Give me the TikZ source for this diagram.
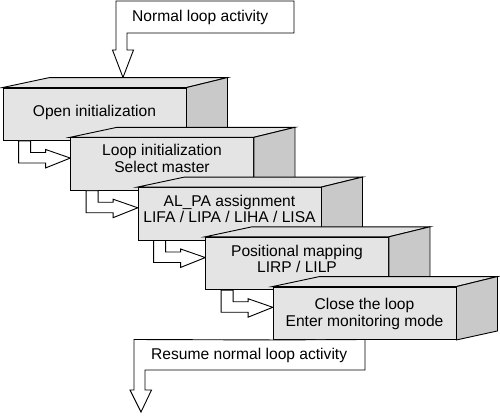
\documentclass[tikz,border=0pt]{standalone}
\usepackage{fontspec}
\setmainfont{Liberation Sans}
\usetikzlibrary{calc}
\definecolor{frontgray}{HTML}{E4E4E4}
\definecolor{topgray}{HTML}{E2E2E2}
\definecolor{sidegray}{HTML}{C9C9C9}
\tikzset{
  stepbox/.style={draw, fill=frontgray, line width=0.9pt, minimum width=183pt, minimum height=52.5pt, inner sep=0pt},
  steptext/.style={inner sep=0pt, align=center, font=\fontsize{15.6pt}{16.5pt}\selectfont},
  ghost/.style={minimum width=183pt, minimum height=52.5pt, inner sep=0pt},
  facetop/.style={draw, fill=topgray, line width=0.9pt, line join=miter},
  faceside/.style={draw, fill=sidegray, line width=0.9pt, line join=miter},
  hollow/.style={draw, fill=white, line width=0.9pt, line join=miter},
  lbl/.style={font=\fontsize{15.6pt}{17.5pt}\selectfont, inner sep=0pt, anchor=west}
}
\newcommand{\boxfaces}[1]{%
  \draw[facetop] (#1.north west) -- ++(47,-10) -- ($(#1.north east)+(41,-10)$) -- (#1.north east) -- cycle;
  \draw[faceside] (#1.north east) -- ++(41,-10) -- ($(#1.south east)+(41,-9)$) -- (#1.south east) -- cycle;
}
\newcommand{\steparrow}[2]{%
  \draw[hollow] ($(#1.south west)+(16,0)$) -- ++(0,22) -- ++(27,0) -- ++(0,5)
    -- ($(#2.north west)+(0,20.5)$)
    -- ($(#1.south west)+(43,8.5)$) -- ++(0,3) -- ++(-15,0) -- ++(0,-11.5) -- cycle;
}
\begin{document}
\begin{tikzpicture}[x=1pt,y=-1pt]
\useasboundingbox (0,0) rectangle (500,416);
% positions of the steps (placeholders for arrow targets)
\path node[ghost] (g2) at (162,164) {}
      node[ghost] (g3) at (229.5,213.75) {}
      node[ghost] (g4) at (297,263.5) {}
      node[ghost] (g5) at (364.5,313.25) {};
% top arrow
\coordinate (topend) at (123,77.5);
\draw[hollow] (116,1) -- (294,1) -- (294,33) -- (127,33) -- (127,50) -- (133.5,50) -- (topend) -- (112.5,50) -- (116,50) -- cycle;
\node[lbl] (tlab) at (132,17) {Normal loop activity};
% boxes
\node[stepbox] (b1) at (94.5,114.25) {};
\node[steptext] (t1) at ($(b1.center)+(0,-2)$) {Open initialization};
\boxfaces{b1}
\steparrow{b1}{g2}
\node[stepbox] (b2) at (g2) {};
\node[steptext] (t2) at ($(b2.center)+(0,-5.5)$) {Loop initialization\\Select master};
\boxfaces{b2}
\steparrow{b2}{g3}
\node[stepbox] (b3) at (g3) {};
\node[steptext] (t3) at ($(b3.center)+(0,-5)$) {AL\_PA assignment\\LIFA / LIPA / LIHA / LISA};
\boxfaces{b3}
\steparrow{b3}{g4}
\node[stepbox] (b4) at (g4) {};
\node[steptext] (t4) at ($(b4.center)+(0,-4.5)$) {Positional mapping\\LIRP / LILP};
\boxfaces{b4}
\steparrow{b4}{g5}
\node[stepbox] (b5) at (g5) {};
\node[steptext] (t5) at ($(b5.center)+(0,0.5)$) {Close the loop\\Enter monitoring mode};
\boxfaces{b5}
% bottom arrow
\coordinate (botend) at (141,412);
\draw[hollow] (b5.south west) -- (134,339.5) -- (134,390) -- (130,390) -- (botend) -- (151.5,390) -- (145,390) -- (145,370) -- (365,370) -- (365,339.5) -- cycle;
\node[lbl] (blab) at (151,355) {Resume normal loop activity};
\end{tikzpicture}
\end{document}
